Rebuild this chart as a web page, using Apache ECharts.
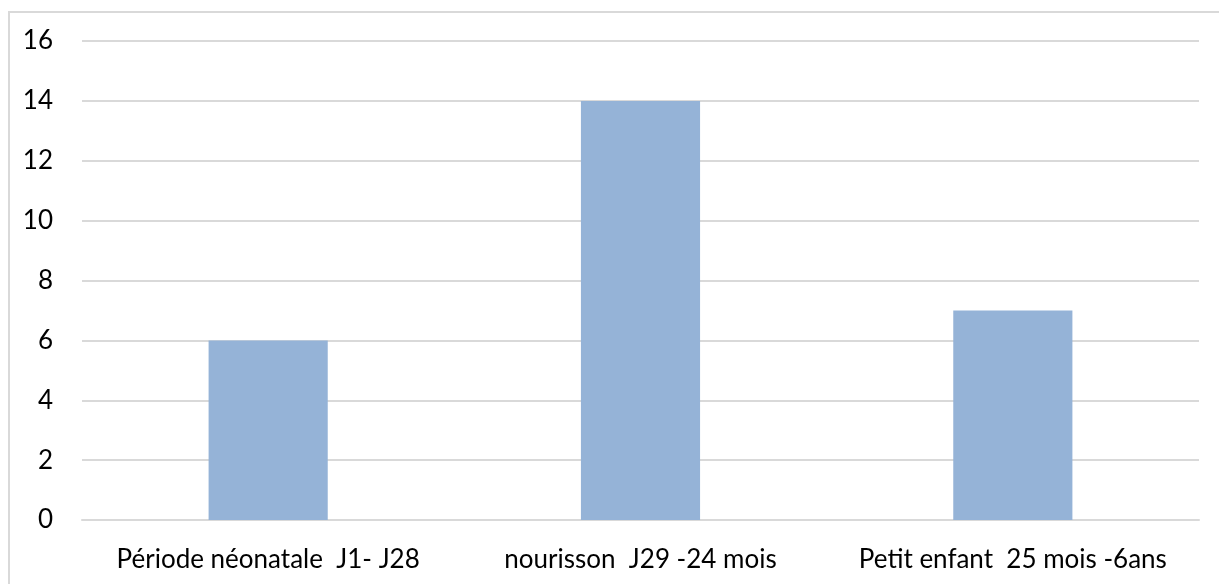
<!DOCTYPE html>
<html>
<head>
<meta charset="utf-8">
<script src="https://cdn.jsdelivr.net/npm/echarts@6/dist/echarts.min.js"></script>
<style>
  html, body { margin: 0; padding: 0; background: #ffffff; overflow: hidden; }
  #frame { position: absolute; left: 8px; top: 11px; width: 1216px; height: 580px; border: 2px solid #d9d9d9; box-sizing: border-box; }
  #chart { position: absolute; left: 0; top: 0; width: 1219px; height: 584px; }
</style>
</head>
<body>
<div id="frame"></div>
<div id="chart"></div>
<script>
// Age groups and case counts
const categories = ['Période néonatale  J1- J28', 'nourisson  J29 -24 mois', 'Petit enfant  25 mois -6ans'];
const counts = [6, 14, 7];
const yTicks = { min: 0, max: 16, step: 2 };

const chart = echarts.init(document.getElementById('chart'), null, { renderer: 'canvas' });
chart.setOption({
  animation: false,
  backgroundColor: 'transparent',
  grid: { left: 82, right: 20, top: 41, bottom: 64, containLabel: false },
  xAxis: {
    type: 'category',
    data: categories,
    axisLine: { show: true, lineStyle: { color: '#d9d9d9', width: 2 } },
    axisTick: { show: false },
    axisLabel: { color: '#000', fontFamily: 'Lato', fontSize: 26, margin: 27, interval: 0, hideOverlap: false },
    splitLine: { show: false }
  },
  yAxis: {
    type: 'value',
    min: yTicks.min,
    max: yTicks.max,
    interval: yTicks.step,
    axisLine: { show: false },
    axisTick: { show: false },
    axisLabel: { color: '#000', fontFamily: 'Lato', fontSize: 26, margin: 29 },
    splitLine: { show: true, lineStyle: { color: '#d9d9d9', width: 2 } }
  },
  series: [{
    type: 'bar',
    data: counts,
    barWidth: '32%',
    itemStyle: { color: '#95b3d7' },
    z: 1
  }]
});
</script>
</body>
</html>
